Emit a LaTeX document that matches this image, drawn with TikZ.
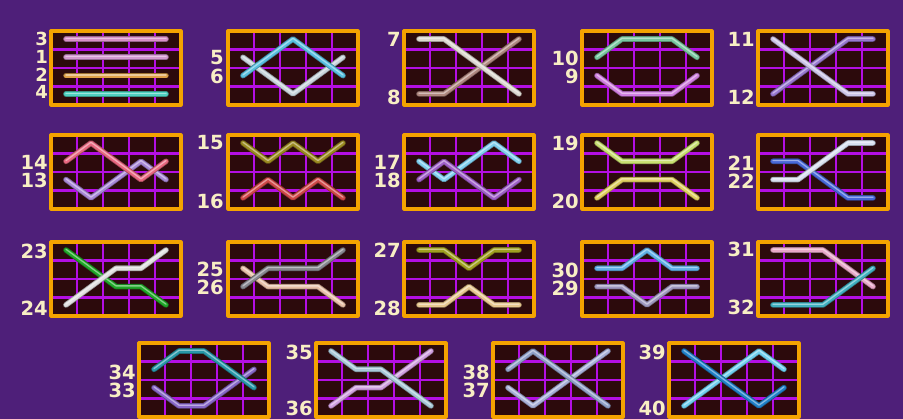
\documentclass[tikz,border=0pt]{standalone}
\usepackage{fontspec}
\setmainfont{DejaVu Sans}
\usetikzlibrary{calc}

% empty board: dark cells, violet grid, orange rim
\newcommand{\gridpanel}{%
  \fill[cell] (0,0) rectangle (130,74);
  \foreach \gx in {26,52,78,104} \draw[grid line] (\gx,0) -- (\gx,74);
  \foreach \gy in {18.5,37,55.5} \draw[grid line] (0,\gy) -- (130,\gy);
  \draw[rim] (0,0) rectangle (130,74);
}

% one pay line: colour (HTML), then the row (0 = top) in each of the 5 reels
\newcommand{\payline}[6]{%
  \definecolor{paytone}{HTML}{#1}
  \draw[line width=5.6pt, paytone!70!black]
    (15,8+18.3*#2) -- (40,8+18.3*#3) -- (65,8+18.3*#4) -- (90,8+18.3*#5) -- (115,8+18.3*#6);
  \draw[line width=4pt, paytone]
    (15,8+18.3*#2) -- (40,8+18.3*#3) -- (65,8+18.3*#4) -- (90,8+18.3*#5) -- (115,8+18.3*#6);
  \draw[line width=1.3pt, white, opacity=0.45]
    (15,7.3+18.3*#2) -- (40,7.3+18.3*#3) -- (65,7.3+18.3*#4) -- (90,7.3+18.3*#5) -- (115,7.3+18.3*#6);
}

\begin{document}
\begin{tikzpicture}[x=1pt, y=-1pt, line cap=round, line join=round,
  grid line/.style={draw=mesh, line width=2.2pt},
  rim/.style={draw=edge, line width=3.2pt},
  num/.style={anchor=east, inner sep=0pt, text=cream,
    font=\fontsize{19.5}{20}\selectfont\bfseries},
  small num/.style={num, font=\fontsize{18}{18}\selectfont\bfseries}]

% Colors
\definecolor{backdrop}{HTML}{4E1F79}
\definecolor{cell}{HTML}{2C0A0C}
\definecolor{mesh}{HTML}{B40FE4}
\definecolor{edge}{HTML}{F4A300}
\definecolor{cream}{HTML}{F8EEC4}

% Background
\fill[backdrop] (0,0) rectangle (903,419);
\useasboundingbox (0,0) rectangle (903,419);

% Row 1
\begin{scope}[shift={(51,31)}]
  \gridpanel
  \payline{D890C8}{0}{0}{0}{0}{0}
  \payline{D49AD0}{1}{1}{1}{1}{1}
  \payline{E0A048}{2}{2}{2}{2}{2}
  \payline{50D0C0}{3}{3}{3}{3}{3}
  \node[small num] (n3) at (-3,8) {3};
  \node[small num] (n1) at (-3,25.8) {1};
  \node[small num] (n2) at (-3,43.6) {2};
  \node[small num] (n4) at (-3,61.4) {4};
\end{scope}

\begin{scope}[shift={(228,31)}]
  \gridpanel
  \payline{C8D4DC}{1}{2}{3}{2}{1}
  \payline{58C0E0}{2}{1}{0}{1}{2}
  \node[num] (n5) at (-4,27) {5};
  \node[num] (n6) at (-4,45) {6};
\end{scope}

\begin{scope}[shift={(404,31)}]
  \gridpanel
  \payline{B08880}{3}{3}{2}{1}{0}
  \payline{DCD8D0}{0}{0}{1}{2}{3}
  \node[num] (n7) at (-3,8) {7};
  \node[num] (n8) at (-3,66) {8};
\end{scope}

\begin{scope}[shift={(582,31)}]
  \gridpanel
  \payline{78C8A0}{1}{0}{0}{0}{1}
  \payline{D080E0}{2}{3}{3}{3}{2}
  \node[num] (n10) at (-3,27) {10};
  \node[num] (n9) at (-3,45) {9};
\end{scope}

\begin{scope}[shift={(758,31)}]
  \gridpanel
  \payline{9878D0}{3}{2}{1}{0}{0}
  \payline{CCC4E8}{0}{1}{2}{3}{3}
  \node[num] (n11) at (-3,8) {11};
  \node[num] (n12) at (-3,66) {12};
\end{scope}

% Row 2
\begin{scope}[shift={(51,135)}]
  \gridpanel
  \payline{A888D8}{2}{3}{2}{1}{2}
  \payline{E86880}{1}{0}{1}{2}{1}
  \node[num] (n14) at (-3,27) {14};
  \node[num] (n13) at (-3,45) {13};
\end{scope}

\begin{scope}[shift={(228,135)}]
  \gridpanel
  \payline{9A8A20}{0}{1}{0}{1}{0}
  \payline{D04848}{3}{2}{3}{2}{3}
  \node[num] (n15) at (-4,8) {15};
  \node[num] (n16) at (-4,66) {16};
\end{scope}

\begin{scope}[shift={(404,135)}]
  \gridpanel
  \payline{80D0F0}{1}{2}{1}{0}{1}
  \payline{A060C8}{2}{1}{2}{3}{2}
  \node[num] (n17) at (-3,27) {17};
  \node[num] (n18) at (-3,45) {18};
\end{scope}

\begin{scope}[shift={(582,135)}]
  \gridpanel
  \payline{C8E070}{0}{1}{1}{1}{0}
  \payline{E0D060}{3}{2}{2}{2}{3}
  \node[num] (n19) at (-3,8) {19};
  \node[num] (n20) at (-3,66) {20};
\end{scope}

\begin{scope}[shift={(758,135)}]
  \gridpanel
  \payline{4868D8}{1}{1}{2}{3}{3}
  \payline{D8E0F0}{2}{2}{1}{0}{0}
  \node[num] (n21) at (-3,28) {21};
  \node[num] (n22) at (-3,46) {22};
\end{scope}

% Row 3
\begin{scope}[shift={(51,242)}]
  \gridpanel
  \payline{20A828}{0}{1}{2}{2}{3}
  \payline{E0E0E0}{3}{2}{1}{1}{0}
  \node[num] (n23) at (-3,9) {23};
  \node[num] (n24) at (-3,66) {24};
\end{scope}

\begin{scope}[shift={(228,242)}]
  \gridpanel
  \payline{E8C0A8}{1}{2}{2}{2}{3}
  \payline{888890}{2}{1}{1}{1}{0}
  \node[num] (n25) at (-4,27) {25};
  \node[num] (n26) at (-4,45) {26};
\end{scope}

\begin{scope}[shift={(404,242)}]
  \gridpanel
  \payline{A0A020}{0}{0}{1}{0}{0}
  \payline{E8C890}{3}{3}{2}{3}{3}
  \node[num] (n27) at (-3,8) {27};
  \node[num] (n28) at (-3,66) {28};
\end{scope}

\begin{scope}[shift={(582,242)}]
  \gridpanel
  \payline{60B0E8}{1}{1}{0}{1}{1}
  \payline{A098C0}{2}{2}{3}{2}{2}
  \node[num] (n30) at (-3,28) {30};
  \node[num] (n29) at (-3,46) {29};
\end{scope}

\begin{scope}[shift={(758,242)}]
  \gridpanel
  \payline{E8A8C8}{0}{0}{0}{1}{2}
  \payline{40B0C0}{3}{3}{3}{2}{1}
  \node[num] (n31) at (-3,7) {31};
  \node[num] (n32) at (-3,65) {32};
\end{scope}

% Row 4
\begin{scope}[shift={(139,343)}]
  \gridpanel
  \payline{8868C8}{2}{3}{3}{2}{1}
  \payline{2898A8}{1}{0}{0}{1}{2}
  \node[num] (n34) at (-3,29) {34};
  \node[num] (n33) at (-3,47) {33};
\end{scope}

\begin{scope}[shift={(316,343)}]
  \gridpanel
  \payline{D0A0E0}{3}{2}{2}{1}{0}
  \payline{A8C8D8}{0}{1}{1}{2}{3}
  \node[num] (n35) at (-3,9) {35};
  \node[num] (n36) at (-3,65) {36};
\end{scope}

\begin{scope}[shift={(493,343)}]
  \gridpanel
  \payline{A8B0D8}{2}{3}{2}{1}{0}
  \payline{90A0C8}{1}{0}{1}{2}{3}
  \node[num] (n38) at (-3,29) {38};
  \node[num] (n37) at (-3,47) {37};
\end{scope}

\begin{scope}[shift={(669,343)}]
  \gridpanel
  \payline{70D0F0}{3}{2}{1}{0}{1}
  \payline{2080C8}{0}{1}{2}{3}{2}
  \node[num] (n39) at (-3,9) {39};
  \node[num] (n40) at (-3,65) {40};
\end{scope}

\end{tikzpicture}
\end{document}
